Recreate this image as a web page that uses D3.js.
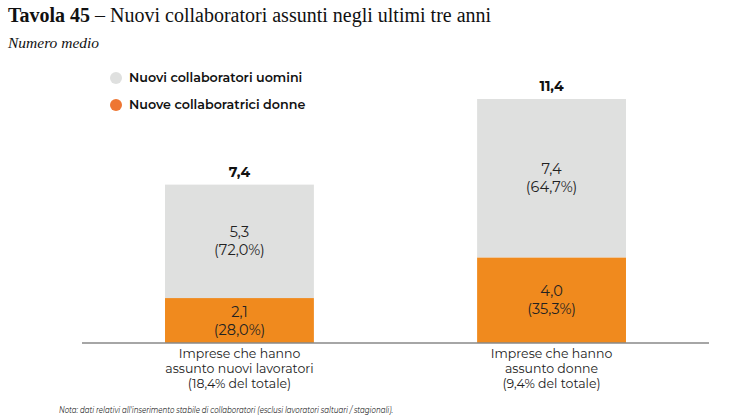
<!DOCTYPE html>
<html>
<head>
<meta charset="utf-8">
<script src="https://cdn.jsdelivr.net/npm/d3@7"></script>
<style>
  body { margin: 0; background: #fff; }
  svg { display: block; }
</style>
</head>
<body>
<svg width="733" height="420"></svg>
<script>
// chart data
var categories = [
    ["Imprese che hanno", "assunto nuovi lavoratori", "(18,4% del totale)"],
    ["Imprese che hanno", "assunto donne", "(9,4% del totale)"]
];
var totals = [7.4, 11.4];
var donne = [2.1, 4.0];
var uomini = [5.3, 7.4];
var donnePct = ["28,0%", "35,3%"];
var uominiPct = ["72,0%", "64,7%"];
var seriesNames = ["Nuovi collaboratori uomini", "Nuove collaboratrici donne"];

var svg = d3.select("svg");
var sans = "Montserrat, 'Noto Sans', sans-serif",
    serif = "Georgia, 'Liberation Serif', serif";

var fmt = function (v) { return d3.format(".1f")(v).replace(".", ","); };

// title
var title = svg.append("text")
    .attr("x", 8).attr("y", 22)
    .style("font-family", serif).style("font-size", "20px").attr("fill", "#111");
title.append("tspan").attr("font-weight", "bold").text("Tavola 45");
title.append("tspan").text(" – Nuovi collaboratori assunti negli ultimi tre anni");

svg.append("text")
    .attr("x", 8).attr("y", 48)
    .style("font-family", serif).style("font-size", "15.5px").style("font-style", "italic")
    .attr("fill", "#111")
    .text("Numero medio");

// scales
var baseY = 343;
var x = d3.scaleBand()
    .domain(d3.range(categories.length))
    .range([82, 709])
    .paddingInner(0.523)
    .paddingOuter(0.266);

var y = d3.scaleLinear()
    .domain([0, 11.4])
    .range([baseY, 99]);

var g = svg.append("g");

// stacked bars
var rows = totals.map(function (t, i) {
    return { i: i, donne: donne[i], uomini: uomini[i], total: t };
});
var stack = d3.stack().keys(["donne", "uomini"])(rows);
var colors = { donne: "#F08A1E", uomini: "#DFE0DF" };

stack.forEach(function (layer) {
    g.selectAll(null)
        .data(layer)
        .enter()
        .append("rect")
        .attr("x", function (d, i) { return x(i); })
        .attr("width", x.bandwidth())
        .attr("y", function (d) { return y(d[1]); })
        .attr("height", function (d) { return y(d[0]) - y(d[1]); })
        .attr("fill", colors[layer.key]);

    var pcts = layer.key === "donne" ? donnePct : uominiPct;
    var vals = layer.key === "donne" ? donne : uomini;
    var cx = function (d, i) { return x(i) + x.bandwidth() / 2; };
    var mid = function (d) { return (y(d[0]) + y(d[1])) / 2; };
    g.selectAll(null)
        .data(layer)
        .enter()
        .append("text")
        .attr("x", cx)
        .attr("y", function (d) { return mid(d) - 4; })
        .attr("text-anchor", "middle")
        .style("font-family", sans).style("font-size", "14.5px")
        .attr("fill", "#222")
        .text(function (d, i) { return fmt(vals[i]); });
    g.selectAll(null)
        .data(layer)
        .enter()
        .append("text")
        .attr("x", cx)
        .attr("y", function (d) { return mid(d) + 14; })
        .attr("text-anchor", "middle")
        .style("font-family", sans).style("font-size", "14.5px")
        .attr("fill", "#222")
        .text(function (d, i) { return "(" + pcts[i] + ")"; });
});

// totals
g.selectAll(".total")
    .data(totals)
    .enter()
    .append("text")
    .attr("x", function (d, i) { return x(i) + x.bandwidth() / 2; })
    .attr("y", function (d) { return y(d) - 8; })
    .attr("text-anchor", "middle")
    .style("font-family", sans).style("font-size", "14px").style("font-weight", "bold")
    .attr("fill", "#111")
    .text(fmt);

// baseline
svg.append("line")
    .attr("x1", 82).attr("x2", 709)
    .attr("y1", baseY).attr("y2", baseY)
    .attr("stroke", "#888").attr("stroke-width", 1.3);

// category labels
categories.forEach(function (lines, i) {
    lines.forEach(function (l, k) {
        svg.append("text")
            .attr("text-anchor", "middle")
            .attr("x", x(i) + x.bandwidth() / 2)
            .attr("y", 358 + k * 15)
            .style("font-family", sans).style("font-size", "12.5px")
            .attr("fill", "#222")
            .text(l);
    });
});

// legend
var legColors = ["#DFE0DF", "#EE7633"];
seriesNames.forEach(function (n, i) {
    svg.append("circle")
        .attr("cx", 116).attr("cy", 78 + i * 27).attr("r", 6)
        .attr("fill", legColors[i]);
    svg.append("text")
        .attr("x", 129).attr("y", 82 + i * 27)
        .style("font-family", sans).style("font-size", "12.7px").style("font-weight", "600")
        .attr("fill", "#111")
        .text(n);
});

// note
svg.append("text")
    .attr("x", 59).attr("y", 413)
    .attr("textLength", 334).attr("lengthAdjust", "spacingAndGlyphs")
    .style("font-family", sans).style("font-size", "10px").style("font-style", "italic")
    .attr("fill", "#222")
    .text("Nota: dati relativi all'inserimento stabile di collaboratori (esclusi lavoratori saltuari / stagionali).");
</script>
</body>
</html>
